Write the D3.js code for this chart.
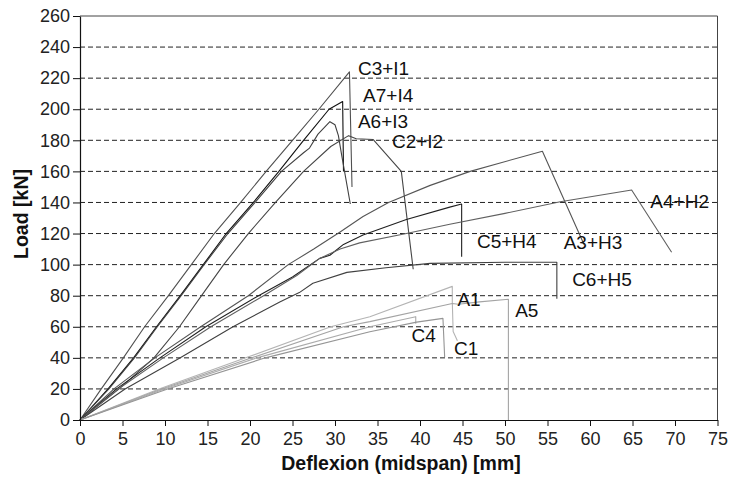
<!DOCTYPE html>
<html><head><meta charset="utf-8">
<script src="https://cdn.jsdelivr.net/npm/d3@7"></script>
<style>
body{margin:0;background:#fff}
svg{display:block}
text{font-family:"Liberation Sans",Arial,sans-serif}
</style>
</head><body>
<svg id="chart" width="732" height="478"></svg>
<script>
// ---- tick labels ----
const xTickValues = [0,5,10,15,20,25,30,35,40,45,50,55,60,65,70,75];
const yTickValues = [0,20,40,60,80,100,120,140,160,180,200,220,240,260];

// ---- series: [deflexion mm, load kN] ----
const C3_I1 = [[0,0],[2.5,20],[5.1,40],[7.6,60],[10.4,80],[13.1,100],[15.8,120],[18.9,140],[21.9,160],[25.0,180],[28.1,200],[31.1,220],[31.7,224],[32.0,150]];
const A7_I4 = [[0,0],[3.3,20],[6.3,40],[9.0,60],[11.8,80],[14.5,100],[17.2,120],[20.4,140],[23.4,160],[26.3,180],[29.3,200],[30.9,205],[31.0,160]];
const A6_I3 = [[0,0],[3.4,20],[6.4,40],[9.1,60],[11.9,80],[14.6,100],[17.4,120],[20.6,140],[23.7,160],[26.3,172],[27.0,175],[28.0,184],[29.4,192],[30.0,190],[30.4,183],[30.8,170],[31.8,139]];
const C2_I2 = [[0,0],[4.6,20],[8.7,40],[11.7,60],[14.3,80],[16.9,100],[19.8,120],[23.0,140],[26.3,160],[29.5,176],[31.6,183],[32.5,181],[34.5,180.5],[37.8,160],[39.2,97]];
const A3_H3 = [[0,0],[4.0,20],[8.8,40],[14.2,60],[19.8,80],[24.5,100],[27.5,110],[30.6,121],[33.3,131],[36.3,140],[41.2,151],[45.9,160],[54.4,173],[59.3,113]];
const C5_H4 = [[0,0],[4.3,20],[9.4,40],[14.8,60],[21.0,80],[25.0,92],[28.2,104],[29.4,106],[31.0,113],[33.3,119],[38.4,129],[43.5,137],[44.9,139],[44.9,105]];
const A4_H2 = [[0,0],[4.5,20],[9.8,40],[15.4,60],[21.6,80],[25.5,93],[28.2,104],[30.6,110],[32.9,114],[38.4,120],[43.5,126],[50.0,133],[56.5,140.5],[64.9,148],[69.6,108]];
const C6_H5 = [[0,0],[5.3,20],[11.8,40],[18.0,60],[23.5,76],[25.8,82],[27.4,88],[31.4,95],[36.0,98],[41.2,100.8],[50.0,101.5],[56.1,101.5],[56.1,78]];
const A1 = [[0,0],[9.3,20],[19.5,40],[29.5,60],[34.1,66.5],[43.8,86],[43.8,76],[43.9,57],[44.4,51]];
const A5 = [[0,0],[9.6,20],[20.2,40],[31.0,60],[34.1,63.3],[43.8,75],[44.5,74.5],[47.0,76],[50.4,77.7],[50.4,0]];
const C4 = [[0,0],[9.9,20],[20.8,40],[34.1,60],[39.5,66.5],[39.5,62]];
const C1 = [[0,0],[10.3,20],[21.8,40],[34.1,56.8],[39.6,63],[42.7,65.4],[42.9,40.5]];

const seriesNames = ["C3+I1","A7+I4","A6+I3","C2+I2","A3+H3","C5+H4","A4+H2","C6+H5","A1","A5","C4","C1"];
const seriesData  = [C3_I1,A7_I4,A6_I3,C2_I2,A3_H3,C5_H4,A4_H2,C6_H5,A1,A5,C4,C1];
const seriesColor = ["#505050","#111111","#404040","#454545","#555555","#202020","#606060","#404040","#b4b4b4","#a4a4a4","#ababab","#959595"];
// label anchor positions (data coordinates of text start / baseline)
const labelPos = [[32.7,222],[33.3,204.8],[32.7,187.9],[36.7,175],[56.9,110],[46.7,110.7],[67.1,136.4],[57.9,86.2],[44.4,73.4],[51.2,66.3],[39.0,50.5],[44.0,41.8]];

const svg = d3.select("#chart");
const x = d3.scaleLinear().domain([0,75]).range([80,717.5]);
const y = d3.scaleLinear().domain([0,260]).range([420,16]);

// gridlines
svg.append("g").selectAll("line").data(yTickValues.filter(v=>v>0 && v<260)).join("line")
  .attr("x1",x(0)).attr("x2",x(75)).attr("y1",d=>y(d)).attr("y2",d=>y(d))
  .attr("stroke","#222").attr("stroke-width",1).attr("stroke-dasharray","5,3");

// box top/right
svg.append("path").attr("d",`M${x(0)},${y(260)}H${x(75)}V${y(0)}`)
  .attr("fill","none").attr("stroke","#444").attr("stroke-width",1);

// series
const line = d3.line().x(d=>x(d[0])).y(d=>y(d[1]));
svg.append("g").selectAll("path").data(seriesData).join("path")
  .attr("d",line).attr("fill","none")
  .attr("stroke",(d,i)=>seriesColor[i]).attr("stroke-width",1.1)
  .attr("stroke-linejoin","round");

// labels
svg.append("g").selectAll("text").data(seriesNames).join("text")
  .attr("x",(d,i)=>x(labelPos[i][0])).attr("y",(d,i)=>y(labelPos[i][1]))
  .attr("font-size","19px").attr("fill","#111").text(d=>d);

// axes
const gx = svg.append("g").attr("transform",`translate(0,${y(0)})`)
  .call(d3.axisBottom(x).tickValues(xTickValues).tickSize(6).tickSizeOuter(0).tickPadding(6).tickFormat(d3.format("d")));
const gy = svg.append("g").attr("transform",`translate(${x(0)},0)`)
  .call(d3.axisLeft(y).tickValues(yTickValues).tickSize(7).tickSizeOuter(0).tickPadding(3).tickFormat(d3.format("d")));
[gx,gy].forEach(g=>{
  g.selectAll("text").attr("font-size","18px").attr("fill","#222").attr("font-family","Liberation Sans, Arial, sans-serif");
  g.selectAll("line").attr("stroke","#111");
  g.select(".domain").attr("stroke","#111").attr("stroke-width",1.2);
});

// axis titles
svg.append("text").attr("x",401).attr("y",470).attr("text-anchor","middle")
  .attr("font-size","19.5px").attr("font-weight","bold").attr("fill","#111")
  .text("Deflexion (midspan) [mm]");
svg.append("text").attr("transform","translate(28,214) rotate(-90)").attr("text-anchor","middle")
  .attr("font-size","19.5px").attr("font-weight","bold").attr("fill","#111")
  .text("Load [kN]");
</script>
</body></html>
